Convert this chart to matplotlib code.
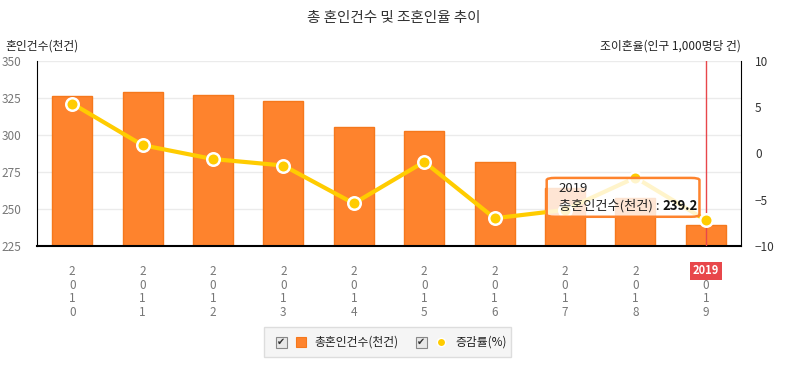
import numpy as np
import matplotlib
matplotlib.use("Agg")
from matplotlib import pyplot as plt
from matplotlib.patches import FancyBboxPatch, Rectangle

plt.rcParams['font.family'] = ['Noto Sans CJK KR', 'DejaVu Sans']

# data
years = ['2010', '2011', '2012', '2013', '2014', '2015', '2016', '2017', '2018', '2019']
marriages = [326.1, 329.1, 327.1, 322.8, 305.5, 302.8, 281.6, 264.5, 257.6, 239.2]
change_rate = [5.4, 0.9, -0.6, -1.3, -5.4, -0.9, -7.0, -6.1, -2.6, -7.2]

bar_color = '#fe832d'
bar_edge = '#f5781c'
line_color = '#ffcc00'
grey = '#777777'

fig = plt.figure(figsize=(7.87, 3.69), dpi=100)
ax = fig.add_axes([37 / 787, 1 - 246 / 369, 704 / 787, 185 / 369])
ax2 = ax.twinx()

x = np.arange(len(years))
ax.bar(x, marriages, width=0.57, color=bar_color, edgecolor=bar_edge, linewidth=1, zorder=2)
ax.set_ylim(225, 350)
ax.set_xlim(-0.5, len(years) - 0.5)
ax.set_yticks([225, 250, 275, 300, 325, 350])
ax.grid(axis='y', color='#ebebeb', linewidth=1, zorder=0)
ax.set_axisbelow(True)

ax2.plot(x, change_rate, color=line_color, linewidth=3, marker='o', markersize=9,
         markerfacecolor=line_color, markeredgecolor='white', markeredgewidth=1.8, zorder=5)
ax2.set_ylim(-10, 10)
ax2.set_yticks([-10, -5, 0, 5, 10])

for a in (ax, ax2):
    for s in a.spines.values():
        s.set_visible(False)
ax.spines['left'].set_visible(True)
ax.spines['bottom'].set_visible(True)
ax2.spines['right'].set_visible(True)
ax.spines['left'].set_color('black')
ax.spines['bottom'].set_color('black')
ax2.spines['right'].set_color('black')
ax.spines['bottom'].set_linewidth(1.5)

ax.tick_params(axis='y', length=0, labelsize=8.5, labelcolor=grey, pad=11)
ax2.tick_params(axis='y', length=0, labelsize=8.5, labelcolor='#333333', pad=10)

# vertical year labels
ax.set_xticks(x)
ax.set_xticklabels(['\n'.join(y) for y in years], fontsize=8.5, color=grey, linespacing=1.05)
ax.tick_params(axis='x', length=0, pad=14)

# highlight line for 2019
ax.axvline(x[-1], color='#e8474b', linewidth=1, zorder=6)
ax.text(x[-1], -0.135, years[-1], transform=ax.get_xaxis_transform(), ha='center', va='center',
        fontsize=8, color='white', fontweight='bold', zorder=10,
        bbox=dict(boxstyle='square,pad=0.25', fc='#e8474b', ec='none'))

# tooltip
tip = FancyBboxPatch((0.724, 0.158), 0.217, 0.21, boxstyle='round,pad=0,rounding_size=0.012',
                     transform=ax2.transAxes, fc=(1, 1, 1, 0.8), ec='#fe832d', lw=1.8, zorder=20)
ax2.add_patch(tip)
ax2.text(0.741, 0.31, years[-1], transform=ax2.transAxes, fontsize=9.5, color='#222222',
         va='center', zorder=21)
lab = ax2.text(0.741, 0.215, '총혼인건수(천건) : ', transform=ax2.transAxes, fontsize=9.5,
               color='#222222', va='center', zorder=21)
ax2.annotate(f'{marriages[-1]}', xy=(1, 0.5), xycoords=lab, fontsize=9.5, color='#111111',
             fontweight='bold', va='center', ha='left', zorder=21)

# titles
fig.text(0.5, 1 - 18 / 369, '총 혼인건수 및 조혼인율 추이', ha='center', va='center', fontsize=10.5, color='#333333')
fig.text(5 / 787, 1 - 46 / 369, '혼인건수(천건)', ha='left', va='center', fontsize=8.5, color='#222222')
fig.text(741 / 787, 1 - 46 / 369, '조이혼율(인구 1,000명당 건)', ha='right', va='center', fontsize=8.5, color='#222222')

# legend box
fig.patches.append(Rectangle((264 / 787, 1 - 357 / 369), 247 / 787, 30 / 369, transform=fig.transFigure,
                             fc='#f5f5f5', ec='#dddddd', lw=1))
ly = 1 - 342 / 369
for cx in (281, 421):
    fig.patches.append(Rectangle(((cx - 5) / 787, ly - 5.5 / 369), 11 / 787, 11 / 369, transform=fig.transFigure,
                                 fc='#e8e8e8', ec='#888888', lw=0.8))
    fig.text(cx / 787, ly, '✔', ha='center', va='center', fontsize=7, color='#333333',
             family=['DejaVu Sans'])
fig.patches.append(Rectangle((296 / 787, ly - 5 / 369), 10 / 787, 10 / 369, transform=fig.transFigure,
                             fc=bar_color, ec=bar_edge, lw=0.8))
fig.text(314 / 787, ly, '총혼인건수(천건)', ha='left', va='center', fontsize=8.5, color='#222222')
fig.lines.append(plt.Line2D([441 / 787], [ly], transform=fig.transFigure, marker='o', markersize=6,
                            color=line_color, markeredgecolor='white'))
fig.text(455 / 787, ly, '증감률(%)', ha='left', va='center', fontsize=8.5, color='#222222')

fig.savefig('out.png', dpi=100, facecolor='white')
